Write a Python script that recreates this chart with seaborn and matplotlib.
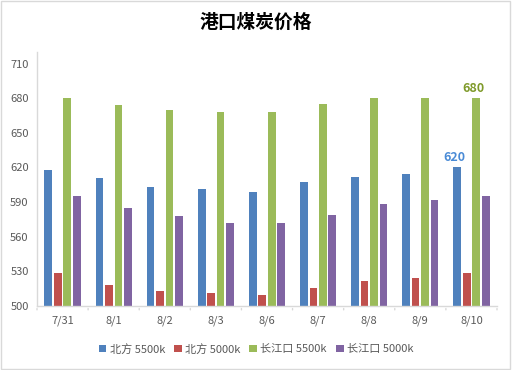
import matplotlib
matplotlib.use("Agg")
import matplotlib.pyplot as plt
import seaborn as sns
import pandas as pd
from matplotlib.patches import Rectangle

dates = ["7/31", "8/1", "8/2", "8/3", "8/6", "8/7", "8/8", "8/9", "8/10"]
series = ["北方 5500k", "北方 5000k", "长江口 5500k", "长江口 5000k"]
north_5500 = [618, 611, 603, 601, 599, 607, 612, 614, 620]
north_5000 = [528, 518, 513, 511, 509, 515, 521, 524, 528]
cj_5500 = [680, 674, 670, 668, 668, 675, 680, 680, 680]
cj_5000 = [595, 585, 578, 572, 572, 579, 588, 592, 595]
yticks = [500, 530, 560, 590, 620, 650, 680, 710]
colors = ["#4F81BD", "#C0504D", "#9BBB59", "#8064A2"]

rows = []
for name, vals in zip(series, [north_5500, north_5000, cj_5500, cj_5000]):
    for d, v in zip(dates, vals):
        rows.append({"date": d, "series": name, "price": v})
df = pd.DataFrame(rows)

sns.set_theme(style="white")
plt.rcParams["font.family"] = ["Noto Sans CJK SC", "DejaVu Sans"]

fig = plt.figure(figsize=(5.12, 3.7), dpi=100)
ax = fig.add_axes([37 / 512, 1 - 305.7 / 370, 460 / 512, (305.7 - 52) / 370])

sns.barplot(data=df, x="date", y="price", hue="series", palette=colors,
            width=0.74, gap=0.18, ax=ax, legend=True, saturation=1, linewidth=0)

ax.set_ylim(500, 720)
ax.set_xlim(-0.5, len(dates) - 0.5)
ax.set_yticks(yticks)
ax.set_xlabel("")
ax.set_ylabel("")
ax.tick_params(axis="y", length=0, labelsize=8, colors="#595959", pad=6)
ax.tick_params(axis="x", length=0, labelsize=8, colors="#595959", pad=7)
for s in ["top", "right"]:
    ax.spines[s].set_visible(False)
for s in ["left", "bottom"]:
    ax.spines[s].set_color("#D9D9D9")
    ax.spines[s].set_linewidth(1)

# category boundary tick marks
for i in range(len(dates) + 1):
    ax.annotate("", xy=(i - 0.5, 500), xycoords="data",
                xytext=(0, -5), textcoords="offset points",
                arrowprops=dict(arrowstyle="-", color="#D9D9D9", lw=1))

# data labels for last point
bars = ax.containers
last = len(dates) - 1
b0 = bars[0][last]
ax.text(b0.get_x() + b0.get_width() / 2 - 0.05, north_5500[last] + 3, str(north_5500[last]),
        ha="center", va="bottom", fontsize=9, fontweight="bold", color="#4A8BD6")
b2 = bars[2][last]
ax.text(b2.get_x() + b2.get_width() / 2 - 0.05, cj_5500[last] + 3, str(cj_5500[last]),
        ha="center", va="bottom", fontsize=9, fontweight="bold", color="#7F9A2A")

handles, labels = ax.get_legend_handles_labels()
ax.get_legend().remove()
fig.legend(handles, labels, loc="center", bbox_to_anchor=(0.5, 1 - 349 / 370), ncol=4,
           frameon=False, fontsize=8, handlelength=0.7, handleheight=0.7,
           handletextpad=0.3, columnspacing=0.8, labelcolor="#595959")

fig.text(0.5, 1 - 22 / 370, "港口煤炭价格", ha="center", va="center",
         fontsize=13.5, fontweight="bold", color="#000000")

fig.patches.append(Rectangle((0.002, 0.003), 0.995, 0.994, transform=fig.transFigure,
                             fill=False, edgecolor="#D9D9D9", lw=1))

fig.savefig("out.png", dpi=100)
